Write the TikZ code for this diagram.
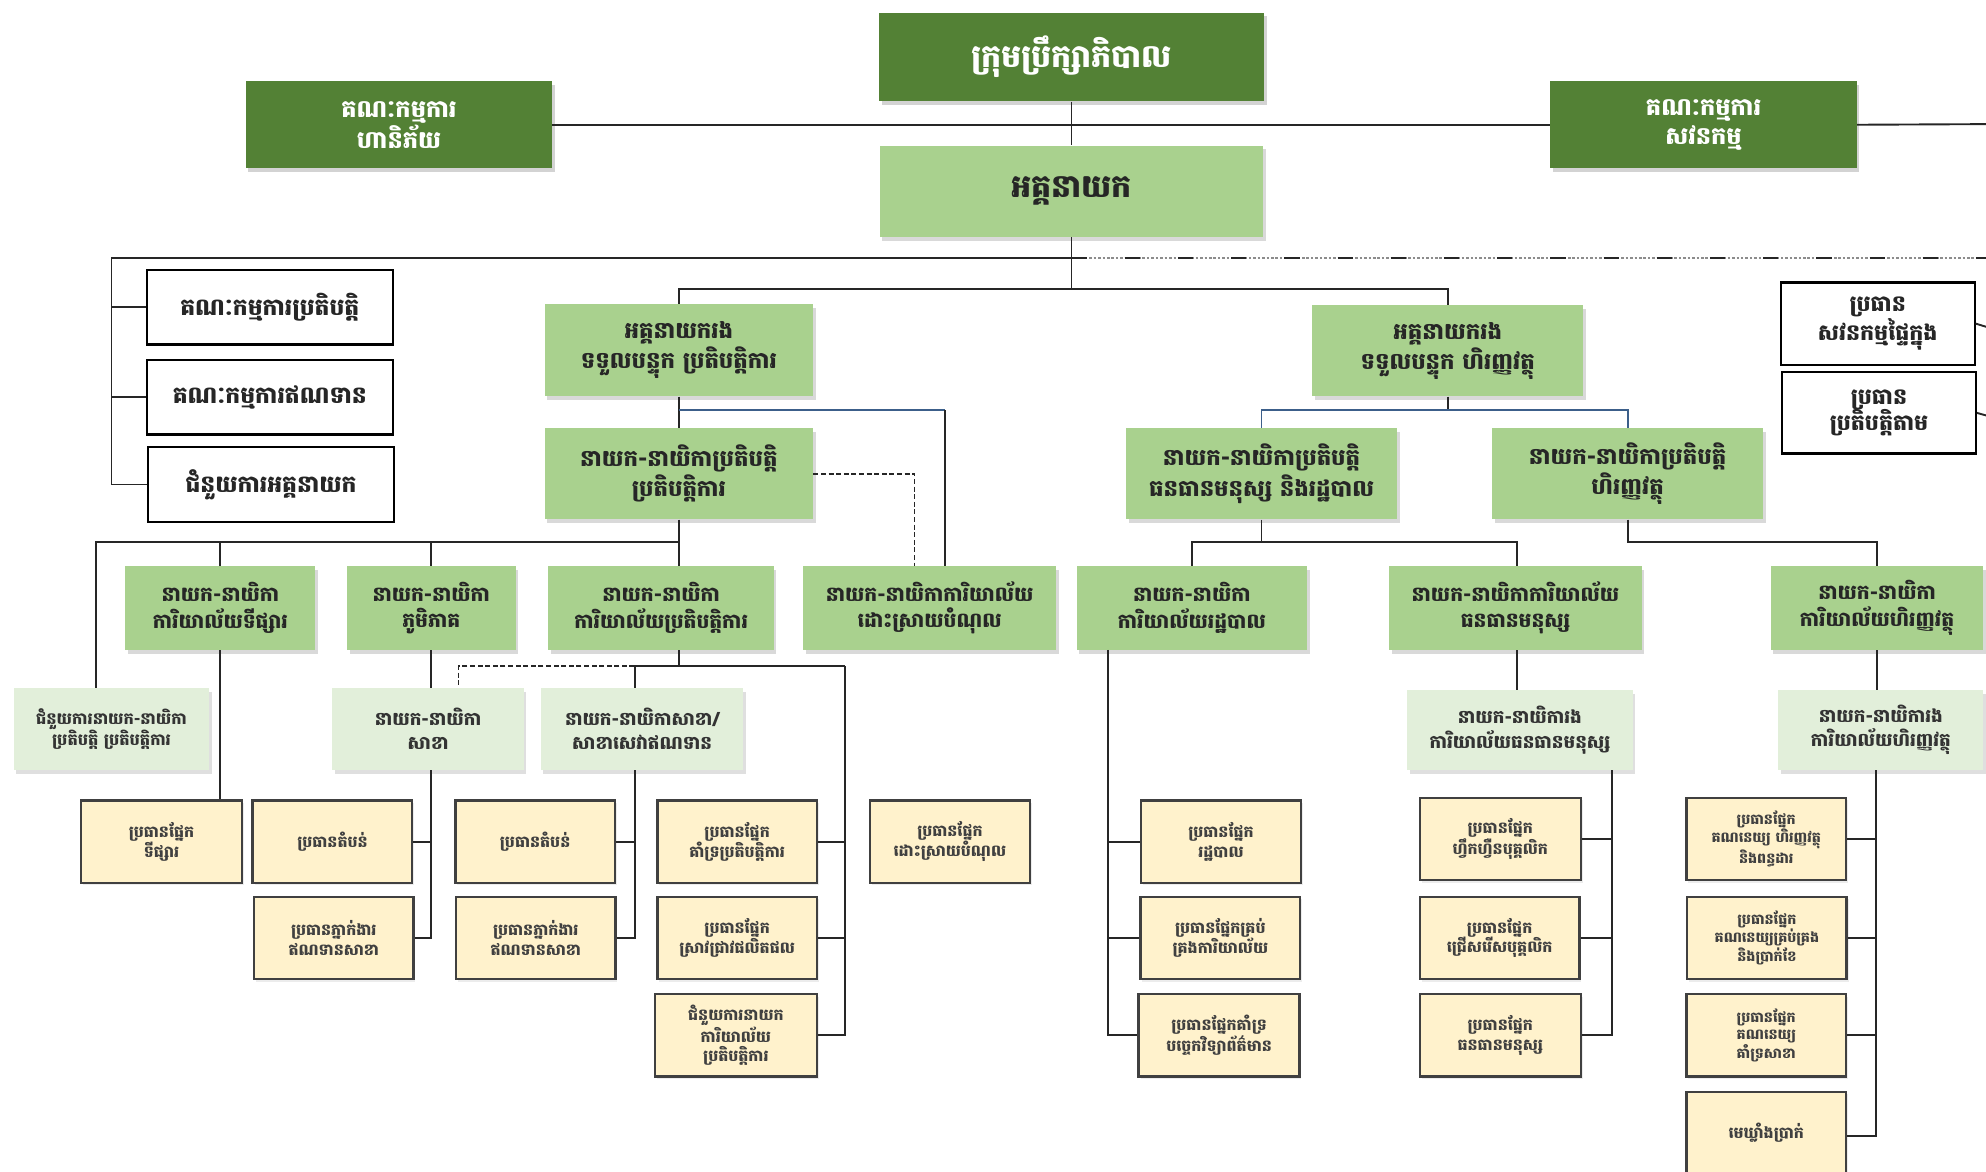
\documentclass[tikz,border=0pt]{standalone}
\usepackage{fontspec}
\newfontfamily\kh[Script=Khmer]{Battambang}
\usetikzlibrary{shadows,calc}
\definecolor{dkg}{HTML}{538135}
\definecolor{lg}{HTML}{A9D18E}
\definecolor{llg}{HTML}{E2EFDA}
\definecolor{yel}{HTML}{FFF2CC}
\definecolor{bl}{HTML}{3C5F8A}
\newcommand{\fs}[2]{\kh\bfseries\fontsize{#1}{#2}\selectfont}
\tikzset{
  base/.style={align=center,inner sep=1pt,font=\kh\bfseries},
  board/.style={base,fill=dkg,text=white,drop shadow={opacity=0.35,shadow xshift=2pt,shadow yshift=-3pt}},
  mid/.style={base,fill=lg,text=black!85,drop shadow={opacity=0.3,shadow xshift=2pt,shadow yshift=-3pt}},
  low/.style={base,fill=llg,text=black!80,drop shadow={opacity=0.25,shadow xshift=2pt,shadow yshift=-3pt}},
  wbox/.style={base,draw=black,line width=1.7pt,fill=white,text=black!85},
  ybox/.style={base,draw=black!75,line width=1.9pt,fill=yel,text=black!75,minimum width=126pt,minimum height=65pt,font=\fs{12.5}{15.5},drop shadow={opacity=0.15,shadow xshift=1.5pt,shadow yshift=-2pt}},
  ln/.style={draw=black!85,line width=1.5pt},
  bln/.style={draw=bl,line width=1.5pt},
  dln/.style={draw=black!85,line width=1.5pt,dash pattern=on 4pt off 2pt},
}
\begin{document}
\begin{tikzpicture}[x=1pt,y=-1pt]
\useasboundingbox (0,0) rectangle (1568,925);
% ---- top level
\node[board,minimum width=304pt,minimum height=70pt,font=\fs{25}{29}] (board) at (846,45) {ក្រុមប្រឹក្សាភិបាល};
\node[board,minimum width=242pt,minimum height=69pt,font=\fs{19}{23}] (risk) at (315,98.5) {គណៈកម្មការ\\ហានិភ័យ};
\node[board,minimum width=242pt,minimum height=69pt,font=\fs{19}{23}] (audit) at (1345,98.5) {គណៈកម្មការ\\សវនកម្ម};
\node[mid,minimum width=303pt,minimum height=72pt,font=\fs{25}{29}] (ceo) at (846,151) {អគ្គនាយក};
% ---- CEO staff
\node[wbox,minimum width=194pt,minimum height=59pt,font=\fs{18.5}{22}] (exec) at (213,242.5) {គណៈកម្មការប្រតិបត្តិ};
\node[wbox,minimum width=194pt,minimum height=59pt,font=\fs{18.5}{22}] (credit) at (213,313.5) {គណៈកម្មការឥណទាន};
\node[wbox,minimum width=194pt,minimum height=59pt,font=\fs{18.5}{22}] (asst) at (214,382.5) {ជំនួយការអគ្គនាយក};
\node[wbox,minimum width=153pt,minimum height=65pt,font=\fs{17.5}{21}] (iaudit) at (1482.5,255.5) {ប្រធាន\\សវនកម្មផ្ទៃក្នុង};
\node[wbox,minimum width=153pt,minimum height=64pt,font=\fs{17.5}{21}] (compl) at (1483.5,326) {ប្រធាន\\ប្រតិបត្តិតាម};
% ---- deputies
\tikzset{midf/.style={mid,font=\fs{18}{24}}}
\node[midf,minimum width=212pt,minimum height=73pt] (dops) at (536,276.5) {អគ្គនាយករង\\ទទួលបន្ទុក ប្រតិបត្តិការ};
\node[midf,minimum width=214pt,minimum height=72pt] (dfin) at (1143,277) {អគ្គនាយករង\\ទទួលបន្ទុក ហិរញ្ញវត្ថុ};
\node[midf,minimum width=212pt,minimum height=72pt] (coo) at (536,374) {នាយក-នាយិកាប្រតិបត្តិ\\ប្រតិបត្តិការ};
\node[midf,minimum width=214pt,minimum height=72pt] (hrx) at (996,374) {នាយក-នាយិកាប្រតិបត្តិ\\ធនធានមនុស្ស និងរដ្ឋបាល};
\node[midf,minimum width=214pt,minimum height=72pt] (finx) at (1285,374) {នាយក-នាយិកាប្រតិបត្តិ\\ហិរញ្ញវត្ថុ};
% ---- directors
\tikzset{dirf/.style={mid,minimum height=66pt,font=\fs{16}{21}}}
\node[dirf,minimum width=150pt] (mkt) at (174,480) {នាយក-នាយិកា\\ការិយាល័យទីផ្សារ};
\node[dirf,minimum width=133pt] (reg) at (340.5,480) {នាយក-នាយិកា\\ភូមិភាគ};
\node[dirf,minimum width=178pt] (opso) at (522,480) {នាយក-នាយិកា\\ការិយាល័យប្រតិបត្តិការ};
\node[dirf,minimum width=200pt] (debt) at (734,480) {នាយក-នាយិកាការិយាល័យ\\ដោះស្រាយបំណុល};
\node[dirf,minimum width=182pt] (adm) at (941,480) {នាយក-នាយិកា\\ការិយាល័យរដ្ឋបាល};
\node[dirf,minimum width=199pt] (hro) at (1196.5,480) {នាយក-នាយិកាការិយាល័យ\\ធនធានមនុស្ស};
\node[dirf,minimum width=168pt] (fino) at (1482,480) {នាយក-នាយិកា\\ការិយាល័យហិរញ្ញវត្ថុ};
% ---- lower light boxes
\tikzset{lowf/.style={low,minimum height=65pt,font=\fs{14.5}{19}}}
\node[lowf,minimum width=154pt,font=\fs{12.8}{17}] (aco) at (88,575.5) {ជំនួយការនាយក-នាយិកា\\ប្រតិបត្តិ ប្រតិបត្តិការ};
\node[lowf,minimum width=151pt] (br) at (338,575.5) {នាយក-នាយិកា\\សាខា};
\node[lowf,minimum width=160pt] (brc) at (507,575.5) {នាយក-នាយិកាសាខា/\\សាខាសេវាឥណទាន};
\node[lowf,minimum width=178pt,minimum height=63pt] (dhr) at (1200,576.5) {នាយក-នាយិការង\\ការិយាល័យធនធានមនុស្ស};
\node[lowf,minimum width=162pt,minimum height=63pt] (dfo) at (1485,576.5) {នាយក-នាយិការង\\ការិយាល័យហិរញ្ញវត្ថុ};
% ---- yellow boxes
\node[ybox,minimum width=127pt] (y1) at (127.5,664.5) {ប្រធានផ្នែក\\ទីផ្សារ};
\node[ybox] (y2) at (262.5,664.5) {ប្រធានតំបន់};
\node[ybox] (y3) at (263.5,740.5) {ប្រធានភ្នាក់ងារ\\ឥណទានសាខា};
\node[ybox] (y4) at (422.5,664.5) {ប្រធានតំបន់};
\node[ybox] (y5) at (423,740.5) {ប្រធានភ្នាក់ងារ\\ឥណទានសាខា};
\node[ybox] (y6) at (582,664.5) {ប្រធានផ្នែក\\គាំទ្រប្រតិបត្តិការ};
\node[ybox] (y7) at (582,740.5) {ប្រធានផ្នែក\\ស្រាវជ្រាវផលិតផល};
\node[ybox,minimum width=128pt] (y8) at (581,817.5) {ជំនួយការនាយក\\ការិយាល័យ\\ប្រតិបត្តិការ};
\node[ybox] (y9) at (750,664.5) {ប្រធានផ្នែក\\ដោះស្រាយបំណុល};
\node[ybox] (y10) at (964,664.5) {ប្រធានផ្នែក\\រដ្ឋបាល};
\node[ybox] (y11) at (963.5,740.5) {ប្រធានផ្នែកគ្រប់\\គ្រងការិយាល័យ};
\node[ybox,minimum width=127pt] (y12) at (962.5,817.5) {ប្រធានផ្នែកគាំទ្រ\\បច្ចេកវិទ្យាព័ត៌មាន};
\node[ybox,minimum width=127pt] (y13) at (1184.5,662.5) {ប្រធានផ្នែក\\ហ្វឹកហ្វឺនបុគ្គលិក};
\node[ybox] (y14) at (1184,740.5) {ប្រធានផ្នែក\\ជ្រើសរើសបុគ្គលិក};
\node[ybox,minimum width=127pt] (y15) at (1184.5,817.5) {ប្រធានផ្នែក\\ធនធានមនុស្ស};
\node[ybox,font=\fs{11.3}{13.5}] (y16) at (1394.5,662.5) {ប្រធានផ្នែក\\គណនេយ្យ ហិរញ្ញវត្ថុ\\និងពន្ធដារ};
\node[ybox,font=\fs{11.3}{13.5}] (y17) at (1395,740.5) {ប្រធានផ្នែក\\គណនេយ្យគ្រប់គ្រង\\និងប្រាក់ខែ};
\node[ybox,font=\fs{11.3}{13.5}] (y18) at (1394.5,817.5) {ប្រធានផ្នែក\\គណនេយ្យ\\គាំទ្រសាខា};
\node[ybox,minimum height=70pt,text depth=8pt] (y19) at (1394.5,897) {មេឃ្លាំងប្រាក់};
% ---- connectors: top
\coordinate (redge1) at (1568,98);
\draw[ln] (risk.east) -- (audit.west);
\draw[ln] (audit.east) -- (redge1);
\draw[ln] (board.south) -- (ceo.north);
\coordinate (h1) at (846,204);
\coordinate (lv) at (88,204);
\coordinate (redge2) at (1568,204);
\draw[ln] (ceo.south) -- (h1) -- (lv);
\draw[ln] (lv) |- (asst.west);
\draw[ln] (lv) |- (exec.west);
\draw[ln] (lv) |- (credit.west);
\draw[draw=black!45,line width=1.5pt,dash pattern=on 2pt off 1.5pt] (h1) -- (redge2);
\draw[draw=black!85,line width=1.5pt,dash pattern=on 12pt off 30pt] (h1) -- (redge2);
\coordinate (h2) at (846,228);
\draw[ln] (h1) -- (h2);
\draw[ln] (dops.north) |- (h2) -| (dfin.north);
\coordinate (redge3) at (1568,258);
\coordinate (redge4) at (1568,328);
\draw[ln] (iaudit.east) -- (redge3);
\draw[ln] (compl.east) -- (redge4);
% ---- operations side
\draw[ln] (dops.south) -- (coo.north);
\coordinate (b1) at (536,324);
\coordinate (b2) at (746,324);
\draw[bln] (b1) -- (b2);
\draw[ln] (b2) -- ($(debt.north)+(12,0)$);
\draw[dln] (coo.east) -| ($(debt.north)+(-12,0)$);
\coordinate (h3) at (536,428);
\draw[ln] (coo.south) -- (h3);
\draw[ln] (h3) -| ($(aco.north)+(-12,0)$);
\draw[ln] (h3) -| (mkt.north);
\draw[ln] (h3) -| (reg.north);
\draw[ln] (h3) -- ($(opso.north)+(14,0)$);
\draw[ln] (mkt.south) -- (mkt.south |- y1.north);
\draw[ln] (reg.south) -- (reg.south |- br.north);
\draw[ln] (br.south -| reg.south) -- (y3.east -| reg.south) -- (y3.east);
\draw[ln] (y2.east) -- (y2.east -| reg.south);
\coordinate (h4) at (536,526);
\coordinate (h4r) at (667,526);
\coordinate (h4m) at (501,526);
\draw[ln] ($(opso.south)+(14,0)$) -- (h4);
\draw[ln] (h4m) -- (h4r);
\draw[dln] (h4m) -| ($(br.north)+(24,0)$);
\draw[ln] (h4m) -- (brc.north -| h4m);
\draw[ln] (brc.south -| h4m) -- (y5.east -| h4m) -- (y5.east);
\draw[ln] (y4.east) -- (y4.east -| h4m);
\draw[ln] (h4r) -- (y8.east -| h4r) -- (y8.east);
\draw[ln] (y6.east) -- (y6.east -| h4r);
\draw[ln] (y7.east) -- (y7.east -| h4r);
\draw[ln] ($(debt.south)+(12,0)$) -- ($(debt.south)+(12,0)$ |- y9.north);
% ---- finance side
\coordinate (b3) at (1143,324);
\draw[ln] (dfin.south) -- (b3);
\draw[bln] (hrx.north) |- (b3) -| (finx.north);
\coordinate (h5) at (996,428);
\draw[ln] (hrx.south) -- (h5);
\draw[ln] (adm.north) |- (h5) -| ($(hro.north)+(1.5,0)$);
\coordinate (h6) at (1285,428);
\draw[ln] (finx.south) -- (h6) -| (fino.north);
\coordinate (av) at (875,513);
\draw[ln] (av) -- (av |- y12.west) -- (y12.west);
\draw[ln] (av |- y10.west) -- (y10.west);
\draw[ln] (av |- y11.west) -- (y11.west);
\draw[ln] ($(hro.south)+(1.5,0)$) -- (dhr.north -| 1198,0);
\coordinate (hv) at (1273,608);
\draw[ln] (hv) -- (hv |- y15.east) -- (y15.east);
\draw[ln] (y13.east) -- (y13.east -| hv);
\draw[ln] (y14.east) -- (y14.east -| hv);
\draw[ln] (fino.south) -- (dfo.north -| fino.south);
\coordinate (fv) at (1481,608);
\draw[ln] (fv) -- (fv |- y19.east) -- (y19.east);
\draw[ln] (y16.east) -- (y16.east -| fv);
\draw[ln] (y17.east) -- (y17.east -| fv);
\draw[ln] (y18.east) -- (y18.east -| fv);
\end{tikzpicture}
\end{document}
